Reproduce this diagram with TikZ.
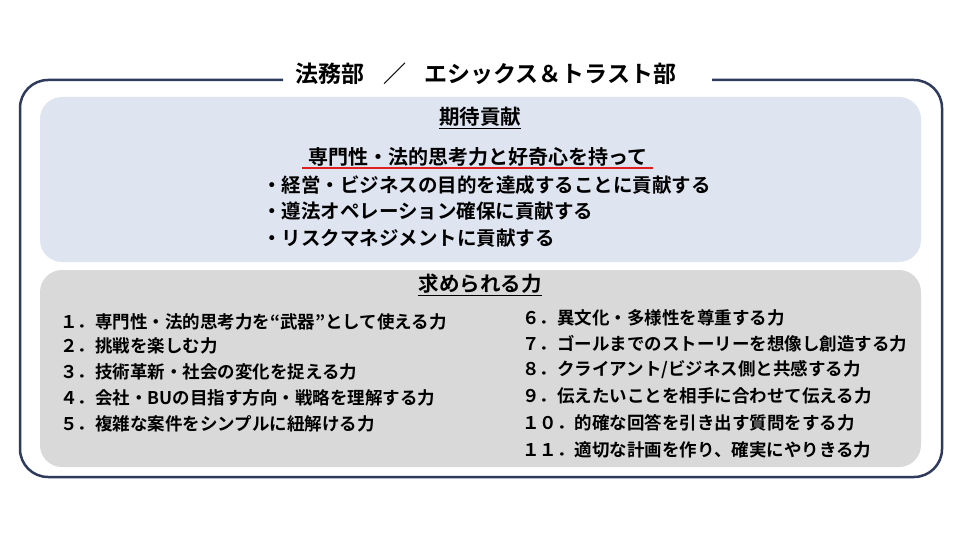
\documentclass[tikz,border=0pt]{standalone}
\usepackage{fontspec}
\setmainfont{Noto Sans CJK JP}[BoldFont={Noto Sans CJK JP Bold}]
\definecolor{navy}{HTML}{2F3B5C}
\definecolor{bluebg}{HTML}{DEE4F0}
\definecolor{graybg}{HTML}{D9D9D9}
\definecolor{redl}{HTML}{E02020}
\begin{document}
\begin{tikzpicture}[x=1pt,y=-1pt,
  txt/.style={font=\fontsize{19.5}{21}\selectfont\bfseries, inner sep=0pt, anchor=west},
  lst/.style={font=\fontsize{17.5}{19}\selectfont\bfseries, inner sep=0pt, anchor=west},
  head/.style={font=\fontsize{20.5}{22}\selectfont\bfseries, inner sep=0pt},
  ul/.style={line width=1pt}]
\useasboundingbox (0,0) rectangle (960,540);
\fill[white] (0,0) rectangle (960,540);
\draw[navy, line width=2.5pt, rounded corners=28pt] (283,80) -- (20,80) -- (20,477) -- (942,477) -- (942,80) -- (712,80);
\fill[bluebg, rounded corners=22pt] (40,97) rectangle (921,262);
\fill[graybg, rounded corners=22pt] (40,270) rectangle (921,467);
\node[head, font=\fontsize{23}{25}\selectfont\bfseries] (title) at (486,74) {法務部\hspace{0.8em}／\hspace{0.8em}エシックス＆トラスト部};
\node[head] (kitai) at (480,117) {期待貢献};
\draw[ul] ([yshift=-2pt]kitai.south west) -- ([yshift=-2pt]kitai.south east);
\node[head, font=\fontsize{20}{22}\selectfont\bfseries] (senmon) at (478,157) {専門性・法的思考力と好奇心を持って};
\draw[ul] ([yshift=-1pt]senmon.south west) -- ([yshift=-1pt]senmon.south east);
\draw[redl, line width=2pt] (302,168) -- (653,168);
\node[txt] (b1) at (262,185) {・経営・ビジネスの目的を達成することに貢献する};
\node[txt] (b2) at (262,211) {・遵法オペレーション確保に貢献する};
\node[txt] (b3) at (262,238) {・リスクマネジメントに貢献する};
\node[head] (motome) at (480,284) {求められる力};
\draw[ul] ([yshift=-2pt]motome.south west) -- ([yshift=-2pt]motome.south east);
\node[lst] (l1) at (60,322) {１．専門性・法的思考力を“武器”として使える力};
\node[lst] (l2) at (60,346) {２．挑戦を楽しむ力};
\node[lst] (l3) at (60,372) {３．技術革新・社会の変化を捉える力};
\node[lst] (l4) at (60,398) {４．会社・BUの目指す方向・戦略を理解する力};
\node[lst] (l5) at (60,424) {５．複雑な案件をシンプルに紐解ける力};
\node[lst] (r1) at (522,318) {６．異文化・多様性を尊重する力};
\node[lst] (r2) at (522,344) {７．ゴールまでのストーリーを想像し創造する力};
\node[lst] (r3) at (522,370) {８．クライアント/ビジネス側と共感する力};
\node[lst] (r4) at (522,396) {９．伝えたいことを相手に合わせて伝える力};
\node[lst] (r5) at (522,423) {１０．的確な回答を引き出す質問をする力};
\node[lst] (r6) at (522,450) {１１．適切な計画を作り、確実にやりきる力};
\end{tikzpicture}
\end{document}
